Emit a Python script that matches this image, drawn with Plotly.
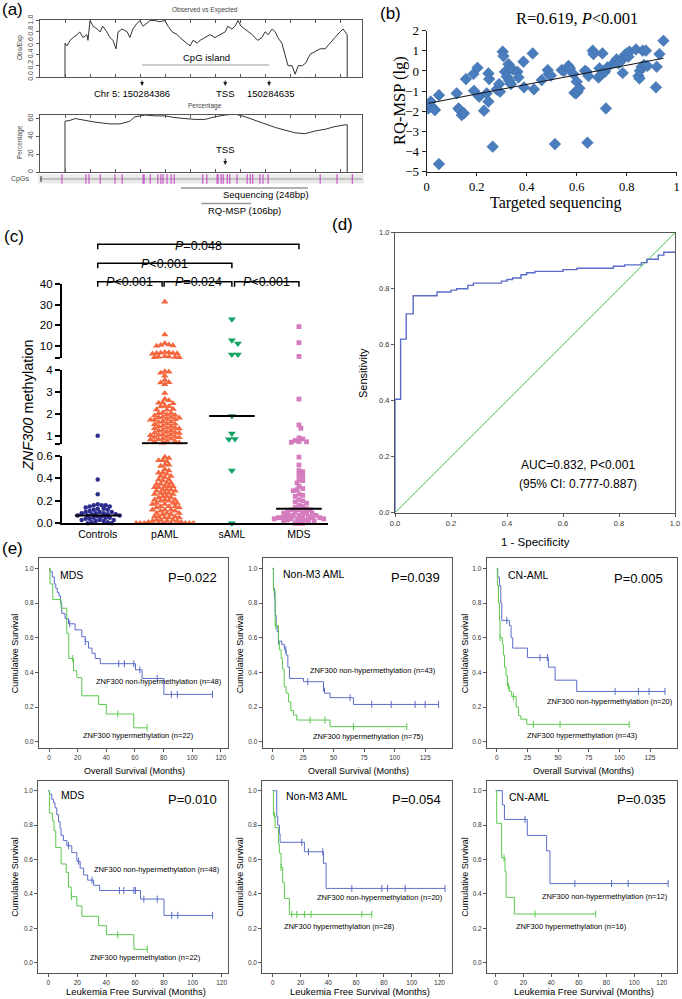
import numpy as np
import plotly.graph_objects as go

W, H = 682, 999
SANS = "Liberation Sans, Arial, sans-serif"
SERIF = "Liberation Serif, Times New Roman, serif"

# ---------------- (a) CpG island map (positions in bp from window start)
oe_pos = [49, 49, 53, 59, 65, 73, 78, 84, 92, 94, 98, 104, 112, 118, 123, 131, 137, 143, 149, 153,
          161, 171, 176, 182, 190, 196, 202, 210, 216, 225, 235, 245, 251, 259, 269, 274, 280, 288,
          294, 300, 308, 314, 323, 333, 343, 353, 363, 368, 376, 382, 388, 394, 402, 408, 416, 421,
          427, 435, 441, 447, 455, 461, 466, 474, 480, 486, 494, 500, 506, 514, 521, 529, 539, 549,
          559, 568, 578, 588, 594, 598, 602, 602]
oe_val = [0, 0.6, 0.55, 0.65, 0.7, 0.75, 0.8, 0.7, 0.75, 0.65, 1.0, 0.9, 0.85, 0.8, 0.9, 0.8, 0.7,
          0.65, 0.5, 0.8, 0.85, 0.8, 0.7, 0.85, 0.95, 1.0, 0.9, 0.95, 1.0, 1.0, 0.98, 1.0, 0.9, 0.8,
          0.75, 0.7, 0.65, 0.6, 0.55, 0.65, 0.6, 0.65, 0.7, 0.75, 0.7, 0.75, 0.8, 0.9, 0.85, 0.9, 1.0,
          0.9, 0.85, 0.8, 0.75, 0.7, 0.65, 0.7, 0.8, 0.75, 0.85, 0.8, 0.7, 0.6, 0.4, 0.2, 0.2, 0.05,
          0.2, 0.2, 0.25, 0.4, 0.45, 0.5, 0.5, 0.6, 0.7, 0.8, 0.85, 0.8, 0.75, 0]
pct_pos = [49, 49, 59, 69, 88, 108, 137, 157, 176, 186, 206, 225, 245, 265, 284, 304, 323, 343, 363,
           382, 402, 421, 441, 461, 480, 500, 519, 539, 559, 578, 598, 602, 602]
pct_val = [0, 57, 58, 60, 58, 56, 54, 54, 57, 62, 64, 63, 63, 61, 60, 59, 59, 62, 64, 65, 62, 58, 54,
           50, 47, 44, 43, 46, 48, 51, 53, 53, 0]
cpg_pos = [43, 90, 96, 118, 147, 161, 202, 204, 216, 231, 237, 241, 249, 257, 263, 319, 327, 347, 349,
           355, 359, 367, 372, 386, 406, 412, 417, 431, 437, 447, 549, 582, 612]
island = [200, 449]
tss = 363
seq_region = [276, 525]
msp_region = [316, 414]

# ---------------- (b) targeted sequencing vs RQ-MSP
b_x = [0.007, 0.016, 0.027, 0.033, 0.049, 0.049, 0.120, 0.127, 0.133, 0.140,
       0.149, 0.157, 0.187, 0.189, 0.203, 0.210, 0.229, 0.240, 0.247, 0.247,
       0.250, 0.264, 0.280, 0.290, 0.293, 0.304, 0.307, 0.313, 0.320, 0.327,
       0.330, 0.333, 0.337, 0.344, 0.363, 0.367, 0.387, 0.389, 0.424, 0.429,
       0.460, 0.484, 0.487, 0.497, 0.513, 0.540, 0.549, 0.567, 0.573, 0.587,
       0.591, 0.597, 0.603, 0.600, 0.611, 0.633, 0.640, 0.647, 0.643, 0.664,
       0.667, 0.687, 0.691, 0.696, 0.703, 0.713, 0.717, 0.723, 0.749, 0.760,
       0.767, 0.773, 0.784, 0.787, 0.793, 0.800, 0.807, 0.811, 0.837, 0.847,
       0.851, 0.853, 0.860, 0.864, 0.869, 0.877, 0.883, 0.917, 0.920, 0.931,
       0.947]
b_y = [-1.86, -1.52, -1.86, -1.94, -1.20, -4.62, -1.11, -1.86, -1.94, -2.19,
       -2.10, -0.40, -0.15, -0.98, 0.16, -1.28, -1.97, -1.11, -1.52, -0.12,
       -0.40, -3.76, -0.91, -0.65, -1.03, 0.96, 0.74, -0.04, -0.28, 0.34,
       -0.48, 0.13, -0.65, 0.08, -0.04, -0.32, 0.46, -0.81, 0.87, -0.91,
       -0.45, 0.05, -0.15, -0.23, -3.63, 0.05, 0.00, 0.25, 0.13, -0.15,
       -1.08, -1.11, -1.03, -0.53, -0.86, 0.01, -0.04, -0.25, -3.56, 1.01,
       0.84, -0.32, 0.13, -0.20, 0.87, -0.04, -1.86, 0.18, 0.41, 0.58,
       0.38, 0.46, -0.10, 0.63, 0.79, 0.87, 0.71, 0.96, 1.07, -0.25,
       -0.37, 0.01, 0.21, 1.01, 0.30, 1.01, 0.25, -0.81, 0.21, 0.84,
       1.50]
b_fit = (-1.62, 2.38)

# ---------------- (c) ZNF300 methylation by group
groups = ["Controls", "pAML", "sAML", "MDS"]
controls = [1.0, 0.39, 0.26, 0.17, 0.16, 0.16, 0.16, 0.15, 0.15, 0.14, 0.13, 0.13, 0.12, 0.12, 0.11,
            0.10, 0.10, 0.10, 0.09, 0.09, 0.09, 0.08, 0.08, 0.08, 0.07, 0.07, 0.07, 0.06, 0.06, 0.05,
            0.05, 0.05, 0.04, 0.04, 0.03, 0.03, 0.03, 0.02, 0.02, 0.01, 0.01, 0.0, 0.0]
paml = [31.5, 15.5, 11.3, 10.6, 10.4, 10.2, 10.0, 7.0, 6.8, 6.6, 6.5, 6.4, 6.3, 6.2, 4.9, 4.8, 4.7,
        4.6, 4.5, 4.4,
        3.95, 3.93, 3.88, 3.75, 3.55, 3.45, 3.43, 3.35, 2.95, 2.68, 2.62, 2.52, 2.5, 2.48, 2.36, 2.34,
        2.33, 2.22, 2.2, 2.18, 2.06, 2.04, 2.02, 1.96, 1.94, 1.92, 1.86, 1.85, 1.83, 1.82, 1.76, 1.75,
        1.73, 1.72, 1.66, 1.64, 1.62, 1.56, 1.54, 1.52, 1.46, 1.44, 1.42, 1.36, 1.35, 1.33, 1.32,
        1.26, 1.24, 1.22, 1.16, 1.15, 1.13, 1.12, 1.06, 1.05, 1.03, 1.02, 0.96, 0.95, 0.93, 0.92,
        0.86, 0.85, 0.83, 0.82, 0.76, 0.75, 0.73, 0.68, 0.67,
        0.59, 0.58, 0.56, 0.56, 0.55, 0.52, 0.52, 0.51, 0.48, 0.47, 0.45, 0.45, 0.44, 0.42, 0.42,
        0.41, 0.39, 0.39, 0.38, 0.36, 0.36, 0.35, 0.35, 0.33, 0.33, 0.33, 0.32, 0.32, 0.30, 0.30,
        0.30, 0.29, 0.29, 0.27, 0.27, 0.27, 0.26, 0.26, 0.24, 0.24, 0.23, 0.23, 0.21, 0.21, 0.21,
        0.20, 0.20, 0.18, 0.18, 0.18, 0.17, 0.17, 0.15, 0.15, 0.15, 0.14, 0.14, 0.12, 0.12, 0.12,
        0.11, 0.11, 0.09, 0.09, 0.09, 0.08, 0.08, 0.06, 0.06, 0.06, 0.05, 0.05, 0.05, 0.03, 0.03,
        0.03, 0.02, 0.02, 0.02, 0.01, 0.01, 0.0, 0.0, 0.0, 0.0, 0.0, 0.0, 0.0, 0.0, 0.0]
saml = [23.0, 12.8, 11.2, 5.9, 5.8, 1.9, 1.1, 0.85, 0.84, 0.47, 0.0]
mds = [19.4, 11.6, 4.9, 2.68, 1.49, 1.34, 0.9, 0.85, 0.78, 0.73, 0.72, 0.7, 0.59, 0.52, 0.47, 0.46,
       0.43, 0.42, 0.39, 0.38, 0.36, 0.33, 0.31, 0.3, 0.29, 0.26, 0.25, 0.24, 0.21, 0.2, 0.19, 0.18,
       0.16, 0.15, 0.14, 0.13, 0.12, 0.12, 0.12, 0.1, 0.1, 0.1, 0.09, 0.09, 0.09, 0.07, 0.07, 0.07,
       0.07, 0.06, 0.06, 0.06, 0.05, 0.05, 0.05, 0.05, 0.04, 0.04, 0.04, 0.04, 0.03, 0.03, 0.03,
       0.02, 0.02, 0.02, 0.0, 0.0, 0.0]
medians = [0.07, 0.65, 1.9, 0.13]
brackets = [(0, 0.96, "<i>P</i>&lt;0.001", 1), (0.99, 2.0, "<i>P</i>=0.024", 1),
            (2.04, 3.0, "<i>P</i>&lt;0.001", 1), (0, 2.0, "<i>P</i>&lt;0.001", 2),
            (0, 3.0, "<i>P</i>=0.048", 3)]

# ---------------- (d) ROC
roc_fpr = [0, 0.02, 0.04, 0.065, 0.15, 0.2, 0.22, 0.26, 0.28, 0.38, 0.4, 0.42, 0.45, 0.47, 0.5, 0.6,
           0.65, 0.78, 0.82, 0.88, 0.9, 0.94, 0.96, 1.0]
roc_tpr = [0, 0.405, 0.62, 0.71, 0.775, 0.788, 0.795, 0.8, 0.812, 0.82, 0.827, 0.833, 0.838, 0.85,
           0.857, 0.862, 0.868, 0.873, 0.88, 0.885, 0.893, 0.905, 0.92, 0.93]

# ---------------- (e) Kaplan-Meier curves: (times, survival, censored times)
mds_os_non = ([0, 0.7, 2.3, 3.7, 4.7, 5.8, 7.0, 8.0, 8.9, 11.2, 13.6, 18.2, 22.9, 25.3, 27.6, 30.0, 32.3,
               35.8, 60.4, 65.0, 80.2, 114.2],
              [1, 0.98, 0.95, 0.91, 0.885, 0.86, 0.84, 0.8, 0.74, 0.71, 0.68, 0.645, 0.606, 0.577, 0.54,
               0.51, 0.48, 0.45, 0.415, 0.365, 0.273, 0.273],
              [14.5, 25.3, 48.7, 52.6, 59.2, 63.4, 75.6, 85.4, 89.6, 114.2])
mds_os_hyp = ([0, 0.7, 2.6, 8.4, 12.4, 13.8, 17.1, 19.4, 22.9, 34.6, 40.0, 59.2, 68.5],
              [1, 0.91, 0.82, 0.77, 0.625, 0.48, 0.41, 0.37, 0.265, 0.215, 0.16, 0.08, 0.08],
              [16.6, 48.0, 68.5])
aml_os_non = ([0, 0.8, 1.6, 2.2, 3.0, 3.8, 4.9, 7.6, 9.8, 11.2, 12.6, 13.9, 25.4, 41.8, 42.6, 47.2, 66.3,
               136.0],
              [1, 0.885, 0.83, 0.73, 0.67, 0.635, 0.58, 0.56, 0.53, 0.5, 0.43, 0.365, 0.346, 0.31, 0.28,
               0.254, 0.215, 0.215],
              [4.9, 10.9, 28.9, 41.8, 63.6, 81.3, 97.2, 116.8, 125.0, 136.0])
aml_os_hyp = ([0, 0.8, 2.2, 4.9, 5.7, 7.1, 8.2, 9.6, 11.2, 13.1, 15.0, 17.2, 19.9, 47.2, 110.0],
              [1, 0.87, 0.67, 0.58, 0.53, 0.48, 0.42, 0.317, 0.28, 0.23, 0.18, 0.154, 0.125, 0.087, 0.087],
              [2.7, 30.8, 43.1, 66.3, 110.0])
cn_os_non = ([0, 0.8, 2.2, 3.3, 4.1, 10.3, 11.7, 13.0, 25.0, 42.1, 47.6, 65.2, 137.2],
             [1, 0.95, 0.9, 0.8, 0.7, 0.67, 0.6, 0.54, 0.485, 0.43, 0.355, 0.29, 0.29],
             [8.2, 35.3, 41.3, 96.5, 115.5, 124.2, 137.2])
cn_os_hyp = ([0, 0.5, 1.4, 2.2, 2.7, 4.6, 5.4, 6.3, 7.6, 8.7, 10.3, 12.2, 15.8, 17.7, 19.6, 24.5, 108.0],
             [1, 0.9, 0.8, 0.7, 0.6, 0.56, 0.5, 0.43, 0.38, 0.32, 0.29, 0.26, 0.2, 0.15, 0.13, 0.1, 0.1],
             [2.7, 9.5, 13.6, 29.9, 51.6, 108.0])
mds_lfs_non = ([0, 0.7, 2.3, 3.5, 4.6, 5.8, 7.0, 8.1, 8.8, 10.4, 12.8, 16.2, 19.7, 22.0, 24.4, 27.2, 31.3,
                35.5, 63.8, 80.1, 113.7],
               [1, 0.98, 0.95, 0.93, 0.9, 0.86, 0.82, 0.78, 0.74, 0.71, 0.68, 0.64, 0.59, 0.55, 0.51,
                0.48, 0.45, 0.42, 0.37, 0.275, 0.275],
               [13.9, 20.9, 30.2, 49.2, 52.2, 59.2, 60.3, 66.1, 75.4, 85.4, 89.6, 113.7])
mds_lfs_hyp = ([0, 0.7, 2.8, 3.9, 5.1, 8.8, 12.3, 13.9, 15.8, 19.7, 23.2, 34.8, 40.2, 59.2, 68.5],
               [1, 0.87, 0.825, 0.767, 0.67, 0.574, 0.525, 0.44, 0.384, 0.33, 0.27, 0.215, 0.163, 0.078,
                0.078],
               [16.0, 48.0, 68.5])
aml_lfs_non = ([0, 2.9, 3.6, 4.8, 5.3, 22.8, 36.5, 38.4, 124.0],
               [1, 0.85, 0.8, 0.75, 0.7, 0.645, 0.578, 0.432, 0.432],
               [20.9, 25.7, 36.0, 56.9, 78.5, 82.6, 95.3, 124.0])
aml_lfs_hyp = ([0, 0.5, 1.7, 4.1, 4.8, 6.0, 7.2, 8.4, 12.0, 71.3],
               [1, 0.857, 0.785, 0.69, 0.636, 0.554, 0.467, 0.374, 0.281, 0.281],
               [1.2, 6.0, 13.7, 17.3, 22.8, 27.6, 64.1, 71.3])
cn_lfs_non = ([0, 4.8, 6.3, 22.8, 36.8, 39.2, 124.6],
              [1, 0.917, 0.833, 0.74, 0.65, 0.46, 0.46],
              [21.2, 57.2, 83.7, 95.7, 124.6])
cn_lfs_hyp = ([0, 0.7, 4.3, 6.7, 7.5, 13.5, 72.2],
              [1, 0.81, 0.61, 0.53, 0.38, 0.283, 0.283],
              [6.0, 28.4, 72.2])

km_titles = ["MDS", "Non-M3 AML", "CN-AML", "MDS", "Non-M3 AML", "CN-AML"]
km_p = ["P=0.022", "P=0.039", "P=0.005", "P=0.010", "P=0.054", "P=0.035"]
km_n_non = [48, 43, 20, 48, 20, 12]
km_n_hyp = [22, 75, 43, 22, 28, 16]
km_curves = [(mds_os_non, mds_os_hyp), (aml_os_non, aml_os_hyp), (cn_os_non, cn_os_hyp),
             (mds_lfs_non, mds_lfs_hyp), (aml_lfs_non, aml_lfs_hyp), (cn_lfs_non, cn_lfs_hyp)]


def px(x):
    return x / W


def py(y):
    return 1 - y / H


def ak(kind, n):
    return kind if n == 1 else f"{kind}{n}"


def txt(x, y, s, size, family=SANS, color="black", angle=0, xanchor="center", **kw):
    return dict(x=px(x), y=py(y), xref="paper", yref="paper", text=s, showarrow=False,
                textangle=angle, xanchor=xanchor, yanchor="middle",
                font=dict(size=size, family=family, color=color), **kw)


fig = go.Figure()
ann = []
shapes = []
lay = {}

# ======== (a)
a_dom_x = [px(40), px(362)]
fig.add_trace(go.Scatter(x=oe_pos, y=oe_val, mode="lines", line=dict(color="#333", width=1),
                         xaxis="x", yaxis="y"))
fig.add_trace(go.Scatter(x=pct_pos, y=pct_val, mode="lines", line=dict(color="#333", width=1),
                         xaxis="x2", yaxis="y2"))
fig.add_trace(go.Scatter(x=cpg_pos, y=[0.5] * len(cpg_pos), mode="markers",
                         marker=dict(symbol="line-ns", size=7, line=dict(color="#c23fc2", width=1)),
                         xaxis="x3", yaxis="y3"))
for n, (dy, yr, tv) in enumerate([((77, 20), [0, 1.01], [0, 0.2, 0.4, 0.6, 0.8, 1.0]),
                                   ((172, 115), [0, 64], [0, 20, 40, 60])], start=1):
    lay[ak("xaxis", n)] = dict(domain=a_dom_x, range=[0, 631], anchor=ak("y", n), showline=True,
                               mirror="allticks", linecolor="#555", linewidth=1, ticks="inside",
                               ticklen=3, tickcolor="#555", tick0=49, dtick=49, showticklabels=False,
                               showgrid=False, zeroline=False)
    lay[ak("yaxis", n)] = dict(domain=[py(dy[0]), py(dy[1])], range=yr, anchor=ak("x", n),
                               showline=True, mirror=True, linecolor="#555", linewidth=1,
                               ticks="outside", ticklen=3, tickcolor="#555", tickvals=tv,
                               tickformat=".1f" if n == 1 else "d", tickangle=-90,
                               tickfont=dict(size=7, family=SANS, color="#444"),
                               showgrid=False, zeroline=False)
lay["xaxis3"] = dict(domain=a_dom_x, range=[0, 631], anchor="y3", visible=False)
lay["yaxis3"] = dict(domain=[py(184), py(174)], range=[0, 1], anchor="x3", visible=False)
shapes.append(dict(type="rect", xref="paper", yref="paper", x0=px(38), x1=px(364), y0=py(183.5),
                   y1=py(174.5), fillcolor="#e9e9e9", line=dict(width=0), layer="below"))
shapes.append(dict(type="line", xref="paper", yref="paper", x0=px(40), x1=px(362), y0=py(179),
                   y1=py(179), line=dict(color="#999", width=1), layer="below"))
shapes.append(dict(type="line", xref="paper", yref="paper", x0=px(41), x1=px(41), y0=py(176),
                   y1=py(182), line=dict(color="#333", width=1)))
shapes.append(dict(type="line", xref="x", yref="paper", x0=island[0], x1=island[1], y0=py(65),
                   y1=py(65), line=dict(color="#999", width=1)))
for xr, yy in [(seq_region, 188), (msp_region, 203.5)]:
    shapes.append(dict(type="line", xref="x3", yref="paper", x0=xr[0], x1=xr[1], y0=py(yy),
                       y1=py(yy), line=dict(color="#999", width=1.5)))
for xb in [island[0], tss, island[1]]:
    ann.append(dict(x=xb, y=py(86), xref="x", yref="paper", ax=0, ay=-7, text="", showarrow=True,
                    arrowhead=2, arrowsize=0.8, arrowwidth=1, arrowcolor="#222"))
ann.append(dict(x=tss, y=py(165), xref="x2", yref="paper", ax=0, ay=-8, text="", showarrow=True,
                arrowhead=2, arrowsize=0.8, arrowwidth=1, arrowcolor="#222"))
ann += [
    txt(12, 10, "(a)", 17),
    txt(205, 10, "Observed vs Expected", 6.5, color="#444"),
    txt(206, 57, "CpG island", 9.5),
    txt(132, 93, "Chr 5: 150284386", 9.5),
    txt(225, 93, "TSS", 9.5),
    txt(271, 93, "150284635", 9.5),
    txt(205, 106, "Percentage", 6.5, color="#444"),
    txt(225, 150, "TSS", 9.5),
    txt(20, 48, "Obs/Exp", 6.5, color="#444", angle=-90),
    txt(20, 142, "Percentage", 6.5, color="#444", angle=-90),
    txt(20, 179, "CpGs", 7, color="#444"),
    txt(266, 195, "Sequencing (248bp)", 9.5),
    txt(244, 210, "RQ-MSP (106bp)", 9.5),
]

# ======== (b)
fig.add_trace(go.Scatter(x=b_x, y=b_y, mode="markers", xaxis="x4", yaxis="y4",
                         marker=dict(symbol="diamond", size=9, color="#4a7dbd",
                                     line=dict(color="#3d6aa5", width=0.5))))
fx = np.array([min(b_x), max(b_x)])
fig.add_trace(go.Scatter(x=fx, y=b_fit[0] + b_fit[1] * fx, mode="lines", xaxis="x4", yaxis="y4",
                         line=dict(color="#111", width=1)))
lay["xaxis4"] = dict(domain=[px(426.7), px(676.7)], range=[0, 1], anchor="y4", showline=True,
                     linecolor="#222", linewidth=1, ticks="outside", ticklen=3, tickcolor="#222",
                     tickvals=[0, 0.2, 0.4, 0.6, 0.8, 1], ticktext=["0", "0.2", "0.4", "0.6", "0.8", "1"],
                     tickfont=dict(size=12.5, family=SERIF, color="black"), showgrid=False,
                     zeroline=False)
lay["yaxis4"] = dict(domain=[py(171.7), py(30.7)], range=[-5, 2], anchor="x4", showline=True,
                     linecolor="#222", linewidth=1, ticks="outside", ticklen=4, tickcolor="#222",
                     dtick=1, tickfont=dict(size=13, family=SERIF, color="black"), showgrid=False,
                     zeroline=False)
ann += [
    txt(390, 13, "(b)", 17),
    txt(577, 18, "R=0.619, <i>P</i>&lt;0.001", 16.5, family=SERIF),
    txt(399, 101, "RQ-MSP (lg)", 16.5, family=SERIF, angle=-90),
    txt(555, 203, "Targeted sequencing", 16, family=SERIF),
]

# ======== (c)
c_segments = [(0, 0.6, 523.3, 456.0), (0.6, 4, 444.4, 370.3), (4, 40, 358.3, 284.3)]
c_yaxes = ["y5", "y6", "y7"]
c_ticks = [([0, 0.2, 0.4, 0.6], ["0.0", "0.2", "0.4", "0.6"]),
           ([0.6, 1, 2, 3, 4], ["", "1", "2", "3", "4"]),
           ([4, 10, 20, 30, 40], ["", "10", "20", "30", "40"])]
c_px_per_cat = 67.0


def seg_index(v):
    return 0 if v <= 0.6 else (1 if v <= 4 else 2)


def seg_px(v):
    lo, hi, p0, p1 = c_segments[seg_index(v)]
    return p0 + (v - lo) / (hi - lo) * (p1 - p0)


def swarm(vals, d):
    ys = [seg_px(v) for v in vals]
    cands = [0.0] + [s * j * d / 2 for j in range(1, 60) for s in (1, -1)]
    placed, offs = [], np.zeros(len(vals))
    for i in np.argsort(ys):
        for c in cands:
            if all((c - a) ** 2 + (ys[i] - b) ** 2 >= d * d * 0.92 for a, b in placed):
                break
        offs[i] = c
        placed.append((c, ys[i]))
    return offs / c_px_per_cat


c_style = [("circle", "#2d2d8f", 4.5, 4.0), ("triangle-up", "#f4673f", 6.5, 4.1),
           ("triangle-down", "#12a462", 7, 6), ("square", "#d57cbe", 4.8, 3.8)]
for gi, vals in enumerate([controls, paml, saml, mds]):
    sym, col, size, d = c_style[gi]
    offs = swarm(vals, d)
    for si in range(3):
        idx = [i for i, v in enumerate(vals) if seg_index(v) == si]
        if not idx:
            continue
        fig.add_trace(go.Scatter(x=[gi + offs[i] for i in idx], y=[vals[i] for i in idx],
                                 mode="markers", xaxis="x5", yaxis=c_yaxes[si], cliponaxis=False,
                                 marker=dict(symbol=sym, size=size, color=col, line=dict(width=0))))
    m = medians[gi]
    fig.add_trace(go.Scatter(x=[gi - 0.34, gi + 0.34], y=[m, m], mode="lines", xaxis="x5",
                             yaxis=c_yaxes[seg_index(m)], line=dict(color="black", width=2)))
lay["xaxis5"] = dict(domain=[px(61.7), px(328)], range=[-0.537, 3.433], anchor="y5", showline=True,
                     linecolor="black", linewidth=1.5, ticks="", tickvals=[0, 1, 2, 3], ticktext=groups,
                     tickfont=dict(size=10.5, family=SANS, color="black"), showgrid=False,
                     zeroline=False)
for si, (lo, hi, p0, p1) in enumerate(c_segments):
    lay[ak("yaxis", 5 + si)] = dict(domain=[py(p0), py(p1)], range=[lo, hi], anchor="x5",
                                    showline=True, linecolor="black", linewidth=1.5, ticks="outside",
                                    ticklen=5, tickwidth=1.5, tickcolor="black",
                                    tickvals=c_ticks[si][0], ticktext=c_ticks[si][1],
                                    tickfont=dict(size=11.5, family=SANS, color="black"),
                                    showgrid=False, zeroline=False)
b_levels = {1: (281.7, 286.7, 273), 2: (263.3, 268.3, 255.5), 3: (244.3, 249.3, 236.5)}
for x0, x1, label, lv in brackets:
    yh, ye, yt = b_levels[lv]
    shapes.append(dict(type="path", xref="x5", yref="paper",
                       path=f"M {x0} {py(ye)} L {x0} {py(yh)} L {x1} {py(yh)} L {x1} {py(ye)}",
                       line=dict(color="black", width=1.5)))
    ann.append(dict(x=(x0 + x1) / 2, y=py(yt), xref="x5", yref="paper", text=label, showarrow=False,
                    font=dict(size=12.5, family=SANS, color="black")))
ann += [
    txt(14.5, 236, "(c)", 17),
    txt(28, 405, "<i>ZNF300</i> methylation", 14.5, angle=-90),
]

# ======== (d)
fig.add_trace(go.Scatter(x=[0, 1], y=[0, 1], mode="lines", xaxis="x6", yaxis="y8",
                         line=dict(color="#3cc43c", width=1)))
fig.add_trace(go.Scatter(x=roc_fpr, y=roc_tpr, mode="lines", line_shape="vh", xaxis="x6",
                         yaxis="y8", line=dict(color="#5a6cc8", width=1.4)))
d_axis = dict(range=[0, 1], showline=True, mirror=True, linecolor="#555", linewidth=1,
              ticks="outside", ticklen=3, tickcolor="#555", dtick=0.2, tickformat=".1f",
              tickfont=dict(size=7.5, family=SANS, color="#333"), showgrid=False, zeroline=False)
lay["xaxis6"] = dict(domain=[px(395), px(675)], anchor="y8", **d_axis)
lay["yaxis8"] = dict(domain=[py(512.7), py(232.7)], anchor="x6", **d_axis)
ann += [
    txt(342, 224, "(d)", 17),
    txt(363, 373, "Sensitivity", 11, angle=-90),
    txt(535, 542, "1 - Specificity", 11.5),
    txt(578, 465, "AUC=0.832, P&lt;0.001", 12),
    txt(578, 484, "(95% CI: 0.777-0.887)", 12),
]

# ======== (e)
km_box = [((39, 228), (558.3, 748.3), (-7, 125), (-0.038, 1.058), 20),
          ((262.7, 452), (558.3, 748.3), (-8, 147), (-0.038, 1.058), 25),
          ((486.7, 677), (558.3, 748.3), (-8.2, 147), (-0.038, 1.058), 25),
          ((38.3, 228), (780.7, 972.7), (-7, 124.4), (-0.058, 1.058), 20),
          ((262.3, 452), (780.7, 972.7), (-7.5, 129), (-0.058, 1.058), 20),
          ((487, 677), (780.7, 972.7), (-6.3, 131), (-0.058, 1.058), 20)]
km_text = [((58, 575), (192, 577), (159, 681.5), (138, 735), 15),
           ((281, 573.5), (415.5, 577), (373, 670), (368.5, 736), 240),
           ((506, 575), (638.5, 578), (610, 701.5), (582.5, 735), 465),
           ((59, 795), (192, 799), (156.5, 869), (145.5, 957.5), 15),
           ((284, 796), (416, 799), (380.5, 897.5), (339, 926), 240),
           ((506.5, 796.5), (641, 799), (605, 896), (571.5, 926), 465)]
km_colors = ["#5a6dc8", "#5cc94e"]
for k in range(6):
    xa, ya = f"x{7 + k}", f"y{9 + k}"
    (dx, dy, xr, yr, dt) = km_box[k]
    for curve, col in zip(km_curves[k], km_colors):
        t, s, cens = curve
        fig.add_trace(go.Scatter(x=t, y=s, mode="lines", line_shape="hv", xaxis=xa, yaxis=ya,
                                 line=dict(color=col, width=1)))
        cy = [s[np.searchsorted(t, c, side="right") - 1] for c in cens]
        fig.add_trace(go.Scatter(x=cens, y=cy, mode="markers", xaxis=xa, yaxis=ya,
                                 marker=dict(symbol="line-ns", size=5, line=dict(color=col, width=1))))
    axis_common = dict(showline=True, mirror=True, linecolor="#555", linewidth=1, ticks="outside",
                       ticklen=3, tickcolor="#555", tickfont=dict(size=6.5, family=SANS, color="#333"),
                       showgrid=False, zeroline=False)
    lay[f"xaxis{7 + k}"] = dict(domain=[px(dx[0]), px(dx[1])], range=list(xr), anchor=ya, dtick=dt,
                                tick0=0, **axis_common)
    lay[f"yaxis{9 + k}"] = dict(domain=[py(dy[1]), py(dy[0])], range=list(yr), anchor=xa, dtick=0.2,
                                tickformat=".1f", **axis_common)
    (tx, ty), (pxx, pyy), (nx, ny), (hx, hy), ylx = km_text[k]
    ann += [
        txt(tx, ty, km_titles[k], 10.5, xanchor="left"),
        txt(pxx, pyy, km_p[k], 13),
        txt(nx, ny, f"ZNF300 non-hypermethylation (n={km_n_non[k]})", 7.5),
        txt(hx, hy, f"ZNF300 hypermethylation (n={km_n_hyp[k]})", 7.5),
        txt(ylx, (dy[0] + dy[1]) / 2, "Cumulative Survival", 9, angle=-90),
    ]
for cx in [134, 358, 583]:
    ann.append(txt(cx, 771, "Overall Survival (Months)", 9))
for cx in [136, 360, 584]:
    ann.append(txt(cx, 991.5, "Leukemia Free Survival (Months)", 9.5))
ann.append(txt(12.5, 548, "(e)", 17))

fig.update_layout(width=W, height=H, showlegend=False,
                  margin=dict(l=0, r=0, t=0, b=0, pad=0, autoexpand=False),
                  plot_bgcolor="white", paper_bgcolor="white", annotations=ann, shapes=shapes,
                  font=dict(family=SANS), **lay)
fig.update_xaxes(automargin=False)
fig.update_yaxes(automargin=False)
# the page's default body margin would push the figure 8px right and down
fig.write_html("out.html", config={"displayModeBar": False},
               post_script="document.body.style.margin='0px';")
